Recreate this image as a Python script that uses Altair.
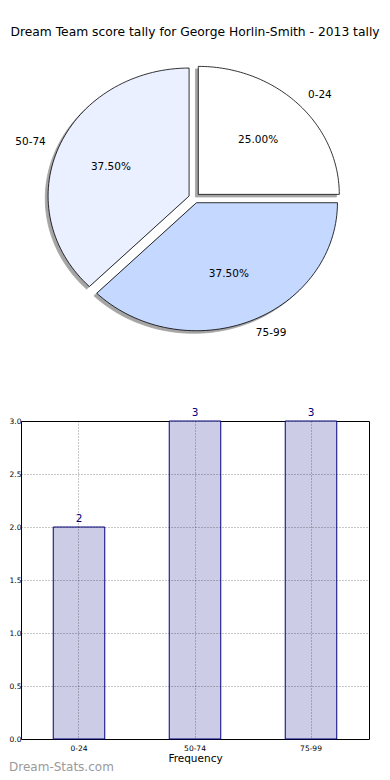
import altair as alt
import pandas as pd

# ---- data ----
categories = ["0-24", "50-74", "75-99"]
counts = [2, 3, 3]
pie_colors = ["#ffffff", "#eaf0ff", "#c5d8ff"]
title_text = "Dream Team score tally for George Horlin-Smith - 2013 tally"
y_ticks = [0.0, 0.5, 1.0, 1.5, 2.0, 2.5, 3.0]
watermark = "Dream-Stats.com"
x_title = "Frequency"

FONT = "DejaVu Sans"
N = 72            # points per slice outline
EXPLODE = 0.04    # explode distance (radius units)
SHADOW = 0.02     # shadow offset (radius units)
LABEL_DIST = 1.1
PCT_DIST = 0.6

# layout (page pixels)
PANEL_W = 348
TITLE_SIZE = 12.3
PIE_LEFT = 20.7
PIE_TOP = 52.0
PIE_H = 346
CX, CY, RX, RY = 194.0, 199.0, 141.0, 128.0
xdom = [(PIE_LEFT - CX) / RX, (PIE_LEFT + PANEL_W - CX) / RX]
ydom = [(CY - PIE_TOP - PIE_H) / RY, (CY - PIE_TOP) / RY]

df = pd.DataFrame({"cat": categories, "count": counts, "order": list(range(len(categories)))})

base = (
    alt.Chart(df)
    .transform_window(cum="sum(count)", sort=[alt.SortField("order")], frame=[None, 0])
    .transform_joinaggregate(total="sum(count)")
    .transform_calculate(
        a0="2*PI*(datum.cum - datum.count)/datum.total",
        a1="2*PI*datum.cum/datum.total",
    )
    .transform_calculate(
        mid="(datum.a0 + datum.a1)/2",
        pct="format(100*datum.count/datum.total, '.2f') + '%'",
    )
)

xs = alt.Scale(domain=xdom, nice=False, zero=False)
ys = alt.Scale(domain=ydom, nice=False, zero=False)

poly = (
    base.transform_calculate(idx=f"sequence(0, {N + 2})")
    .transform_flatten(["idx"])
    .transform_calculate(ang=f"datum.a0 + (datum.a1 - datum.a0) * (datum.idx - 1) / {N}")
    .transform_calculate(
        px=f"{EXPLODE}*cos(datum.mid) + (datum.idx == 0 ? 0 : cos(datum.ang))",
        py=f"{EXPLODE}*sin(datum.mid) + (datum.idx == 0 ? 0 : sin(datum.ang))",
    )
    .transform_calculate(sx=f"datum.px - {SHADOW}", sy=f"datum.py - {SHADOW}")
)

shadow = poly.mark_line(
    interpolate="linear-closed", fill="#4d4d4d", stroke="#4d4d4d",
    strokeWidth=0.8, opacity=0.5
).encode(
    x=alt.X("sx:Q", scale=xs, axis=None),
    y=alt.Y("sy:Q", scale=ys, axis=None),
    detail="cat:N",
    order="idx:Q",
)

wedges = poly.mark_line(
    interpolate="linear-closed", stroke="black", strokeWidth=0.8
).encode(
    x=alt.X("px:Q", scale=xs, axis=None),
    y=alt.Y("py:Q", scale=ys, axis=None),
    fill=alt.Fill("cat:N", scale=alt.Scale(domain=categories, range=pie_colors), legend=None),
    detail="cat:N",
    order="idx:Q",
)

lab = base.transform_calculate(
    lx=f"({EXPLODE}+{LABEL_DIST})*cos(datum.mid)",
    ly=f"({EXPLODE}+{LABEL_DIST})*sin(datum.mid)",
    tx=f"({EXPLODE}+{PCT_DIST})*cos(datum.mid)",
    ty=f"({EXPLODE}+{PCT_DIST})*sin(datum.mid)",
)

lab_right = lab.transform_filter("datum.lx >= 0").mark_text(
    align="left", baseline="middle", font=FONT, fontSize=10.5, color="black"
).encode(x=alt.X("lx:Q", scale=xs, axis=None), y=alt.Y("ly:Q", scale=ys, axis=None), text="cat:N")

lab_left = lab.transform_filter("datum.lx < 0").mark_text(
    align="right", baseline="middle", font=FONT, fontSize=10.5, color="black"
).encode(x=alt.X("lx:Q", scale=xs, axis=None), y=alt.Y("ly:Q", scale=ys, axis=None), text="cat:N")

pct = lab.mark_text(
    align="center", baseline="middle", font=FONT, fontSize=10.5, color="black"
).encode(x=alt.X("tx:Q", scale=xs, axis=None), y=alt.Y("ty:Q", scale=ys, axis=None), text="pct:N")

pie = alt.layer(shadow, wedges, lab_right, lab_left, pct).properties(
    width=PANEL_W, height=PIE_H,
    title=alt.Title(title_text, font=FONT, fontSize=TITLE_SIZE, fontWeight="normal",
                    color="black", anchor="middle", offset=13),
)

# ---- bar chart ----
grid_kw = dict(grid=True, gridColor="#000000", gridOpacity=0.55, gridDash=[1, 2],
               gridWidth=0.8, zindex=1, ticks=False, domain=False)
xb = alt.X(
    "cat:N", sort=categories,
    scale=alt.Scale(paddingInner=0.556, paddingOuter=0.278),
    axis=alt.Axis(
        title=x_title, labelAngle=0, labelFont=FONT, labelFontSize=7.5, labelColor="black",
        labelPadding=5, titleFont=FONT, titleFontSize=10.5, titleFontWeight="normal",
        titleColor="black", titlePadding=2, bandPosition=0.5, **grid_kw,
    ),
)
yb = alt.Y(
    "count:Q", scale=alt.Scale(domain=[0, 3], nice=False),
    axis=alt.Axis(
        title=None, values=y_ticks, format=".1f", labelFont=FONT, labelFontSize=7.5,
        labelColor="black", labelPadding=0, **grid_kw,
    ),
)

bars = alt.Chart(df).mark_bar(fill="#ccccE6", stroke="#000080", strokeWidth=1).encode(x=xb, y=yb)
vals = alt.Chart(df).mark_text(
    baseline="bottom", dy=-3, font=FONT, fontSize=10.5, color="#000080"
).encode(x=alt.X("cat:N", sort=categories), y=alt.Y("count:Q"), text="count:Q")

bar = alt.layer(bars, vals).properties(
    width=PANEL_W, height=318,
    view=alt.ViewBackground(stroke="black", strokeWidth=1),
    title=alt.Title(watermark, orient="bottom", anchor="start", frame="bounds",
                    font=FONT, fontSize=12, fontWeight="normal", color="#9a9a9a", offset=-2),
)

chart = alt.vconcat(pie, bar, spacing=10).properties(
    padding={"left": 0, "top": 17, "right": 0, "bottom": 0}
).configure_view(strokeWidth=0)

chart.save("out.html", embed_options={"renderer": "svg", "actions": False})
